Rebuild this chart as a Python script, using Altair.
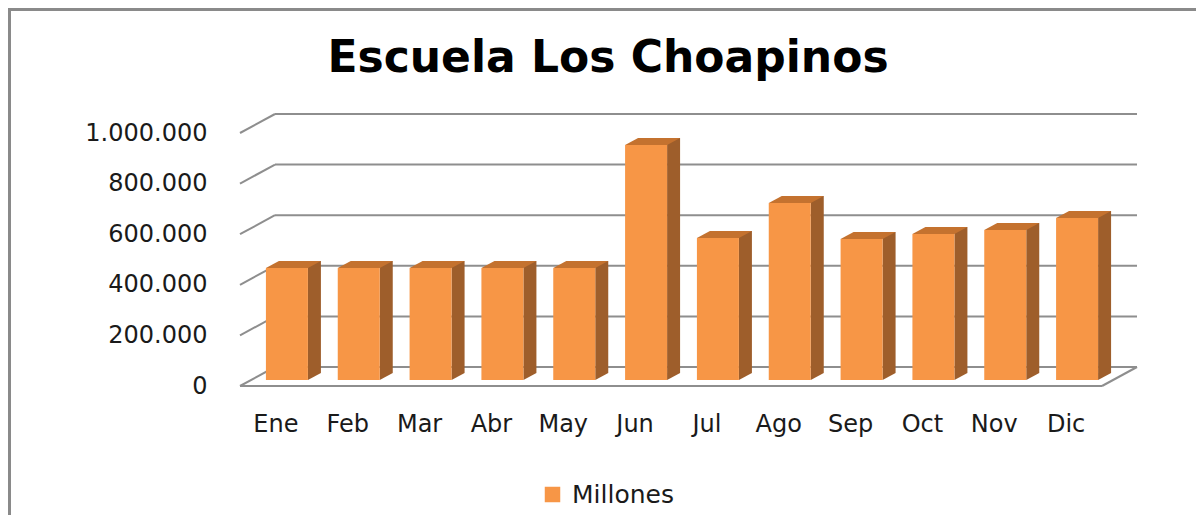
import altair as alt
import pandas as pd

meses = ["Ene", "Feb", "Mar", "Abr", "May", "Jun", "Jul", "Ago", "Sep", "Oct", "Nov", "Dic"]
valores = [443000, 443000, 443000, 443000, 443000, 929000, 561000, 700000, 557000, 577000, 593000, 640000]
serie = "Millones"
ticks = [0, 200000, 400000, 600000, 800000, 1000000]
titulo = "Escuela Los Choapinos"

W, H = 862, 253
DX, DY = 35, -19           # depth of the 3D floor
FRONT, TOP, SIDE = "#F79646", "#C4722F", "#9E5E2B"
GRID = "#8E8E8E"
FONT = "DejaVu Sans"

df = pd.DataFrame({"mes": meses, "valor": valores, "serie": [serie] * len(meses)})
dt = pd.DataFrame({"tick": ticks})

xs = alt.Scale(domain=meses, paddingInner=0, paddingOuter=0)
ys = alt.Scale(domain=[0, 1000000], nice=False, zero=True)

yaxis = alt.Axis(title=None, values=ticks, grid=False, domain=False, ticks=False,
                 labelFontSize=24, labelFont=FONT, labelColor="#1a1a1a",
                 labelPadding=33,
                 labelExpr="replace(replace(format(datum.value, ','), ',', '.'), ',', '.')")
xaxis = alt.Axis(title=None, labelAngle=0, domain=False, ticks=False, grid=False,
                 labelFontSize=24, labelFont=FONT, labelColor="#1a1a1a",
                 labelPadding=26)

x_enc = alt.X("mes:N", scale=xs, sort=meses, axis=xaxis)
y_enc = alt.Y("valor:Q", scale=ys, axis=yaxis)
yt_enc = alt.Y("tick:Q", scale=ys, axis=yaxis)

base_t = alt.Chart(dt)
one = base_t.transform_filter("datum.tick == 0")

# back wall gridlines
back = base_t.mark_rule(color=GRID, strokeWidth=2, xOffset=DX, x2Offset=DX,
                        yOffset=DY).encode(x=alt.value(0), x2=alt.value(W), y=yt_enc)
# left wall diagonals
diag = base_t.mark_rule(color=GRID, strokeWidth=2, y2Offset=DY).encode(
    x=alt.value(0), x2=alt.value(DX), y=yt_enc, y2="tick:Q")
# floor front edge and right diagonal
floor_front = one.mark_rule(color=GRID, strokeWidth=2).encode(
    x=alt.value(0), x2=alt.value(W), y=yt_enc)
floor_right = one.mark_rule(color=GRID, strokeWidth=2, y2Offset=DY).encode(
    x=alt.value(W), x2=alt.value(W + DX), y=yt_enc, y2="tick:Q")

base = alt.Chart(df)

side = base.mark_bar(color=SIDE, size=13, xOffset=38.5, yOffset=-13, y2Offset=-13).encode(
    x=x_enc, y=y_enc, y2=alt.datum(0))
side_low = base.mark_point(shape="M-1,-0.53846L-1,0.53846L1,-0.53846Z", size=169, filled=True,
                           color=SIDE, opacity=1, strokeWidth=0, xOffset=38.5, yOffset=-9.5).encode(
    x=x_enc, y=alt.datum(0))
top = base.mark_point(shape="M-1,0.12727L0.52727,0.12727L1,-0.12727L-0.52727,-0.12727Z", size=3025,
                      filled=True, color=TOP, opacity=1, strokeWidth=0, xOffset=17.5, yOffset=-9.5).encode(
    x=x_enc, y=y_enc)
front = base.mark_bar(size=42, xOffset=11, yOffset=-6, y2Offset=-6).encode(
    x=x_enc, y=y_enc, y2=alt.datum(0),
    color=alt.Color("serie:N", scale=alt.Scale(range=[FRONT]),
                    legend=alt.Legend(title=None, orient="none", legendX=300, legendY=349,
                                      symbolType="square", symbolSize=240, symbolStrokeWidth=0,
                                      labelFontSize=25, labelFont=FONT, labelColor="#1a1a1a",
                                      labelOffset=7, padding=0)))

# chart title as text
title = one.mark_text(text=titulo, font=FONT, fontSize=44, fontWeight="bold", color="#000000",
                      align="center", baseline="alphabetic").encode(
    x=alt.value(368), y=alt.value(-61))

# outer frame (left and top edges of the chart box)
frame_l = one.mark_rule(color="#8a8a8a", strokeWidth=3).encode(
    x=alt.value(-230.5), y=alt.value(-124), y2=alt.value(H + 130))
frame_t = one.mark_rule(color="#8a8a8a", strokeWidth=3).encode(
    x=alt.value(-232), x2=alt.value(W + 94), y=alt.value(-123.5))

chart = alt.layer(back, diag, floor_front, floor_right, side, side_low, top, front,
                  title, frame_l, frame_t).properties(
    width=W, height=H,
    background="white",
    autosize=alt.AutoSizeParams(type="none"),
    padding={"left": 232, "top": 125, "right": 94, "bottom": 129},
).configure_view(stroke="transparent", strokeWidth=0)

chart.save("out.html", embed_options={"renderer": "svg", "actions": False})
